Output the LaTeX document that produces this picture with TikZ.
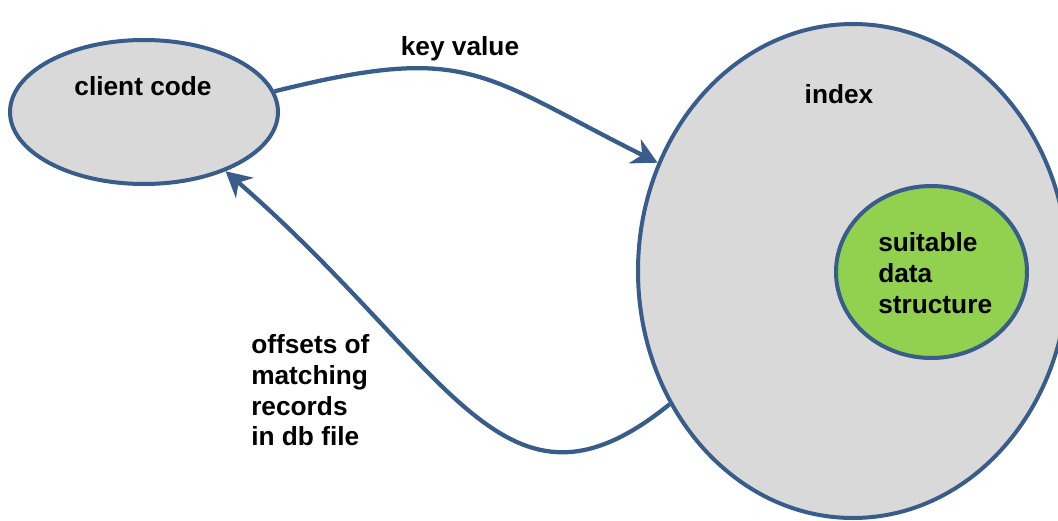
\documentclass[tikz,border=0pt]{standalone}
\usepackage{fontspec}
\setmainfont{Liberation Sans}
\usetikzlibrary{shapes.geometric,arrows.meta}
\definecolor{rimblue}{RGB}{56,93,138}
\definecolor{blobgray}{RGB}{217,217,217}
\definecolor{dsgreen}{RGB}{146,208,80}
\begin{document}
\begin{tikzpicture}[
    x=0.75pt, y=-0.75pt,
    blob/.style={ellipse, draw=rimblue, fill=blobgray, line width=3pt,
      inner sep=0pt},
    flow/.style={draw=rimblue, line width=3.2pt,
      -{Stealth[length=19pt, width=20pt, inset=6pt]}},
    lab/.style={font=\bfseries\fontsize{19.7}{23}\selectfont, inner sep=0pt,
      align=left}]
  \useasboundingbox (0,0) rectangle (1058,521);
  % ellipses
  \node[blob, minimum width=201pt, minimum height=108pt] (client) at (144,112) {};
  \node[blob, minimum width=322.5pt, minimum height=370.5pt] (index) at (853,271) {};
  \node[blob, fill=dsgreen, minimum width=143.25pt, minimum height=129pt]
    (ds) at (931.5,272) {};
  % arrows
  \draw[flow] (client.9.4) .. controls +(14:150pt) and +(153.4:150pt) .. (index.151);
  \draw[flow] (index.216.9) .. controls +(219:160pt) and +(-41:225pt) .. (client.324.3);
  % labels
  \node[lab]                   (clientlab) at (143,86)    {client code};
  \node[lab, anchor=base]      (keylab)    at (460,55.5)  {key value};
  \node[lab, anchor=base]      (indexlab)  at (839,103)   {index};
  \node[lab, anchor=west]      (dslab)     at (878,273)   {suitable\\data\\structure};
  \node[lab, anchor=west]      (offlab)    at (251,390.5) {offsets of\\matching\\records\\in db file};
\end{tikzpicture}
\end{document}
